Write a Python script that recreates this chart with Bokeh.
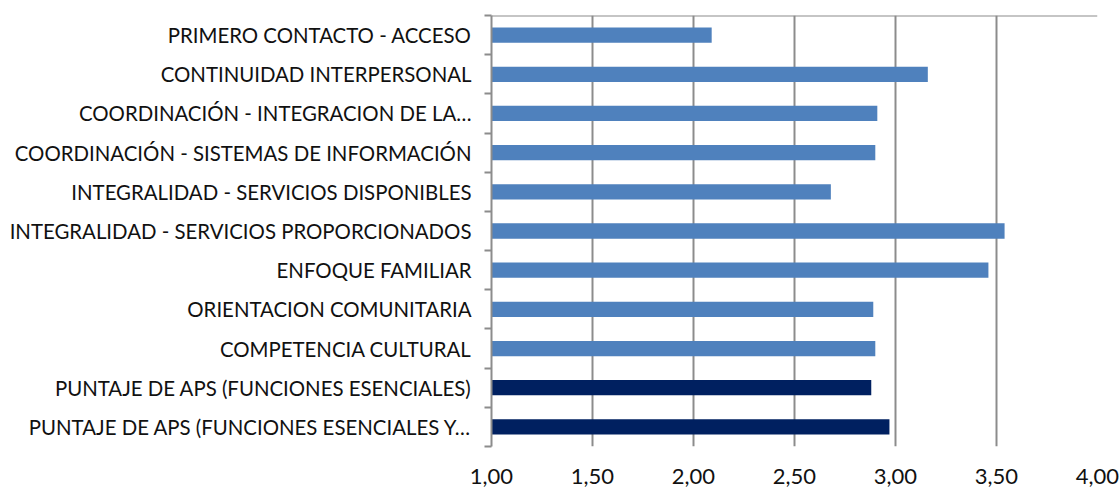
from bokeh.plotting import figure
from bokeh.models import FixedTicker, Range1d, Span, ColumnDataSource
from bokeh.embed import file_html
from bokeh.resources import INLINE

categories = [
    "PRIMERO CONTACTO - ACCESO",
    "CONTINUIDAD INTERPERSONAL",
    "COORDINACIÓN - INTEGRACION DE LA…",
    "COORDINACIÓN - SISTEMAS DE INFORMACIÓN",
    "INTEGRALIDAD - SERVICIOS DISPONIBLES",
    "INTEGRALIDAD - SERVICIOS PROPORCIONADOS",
    "ENFOQUE FAMILIAR",
    "ORIENTACION COMUNITARIA",
    "COMPETENCIA CULTURAL",
    "PUNTAJE DE APS (FUNCIONES ESENCIALES)",
    "PUNTAJE DE APS (FUNCIONES ESENCIALES Y…",
]
values = [2.09, 3.16, 2.91, 2.90, 2.68, 3.54, 3.46, 2.89, 2.90, 2.88, 2.97]
bar_colors = ["#4F81BD"] * 9 + ["#002060"] * 2
x_ticks = [1.0, 1.5, 2.0, 2.5, 3.0, 3.5, 4.0]
x_tick_labels = ["1,00", "1,50", "2,00", "2,50", "3,00", "3,50", "4,00"]

n = len(categories)
ypos = [n - i - 0.5 for i in range(n)]

FONT = "Lato"
GRID = "#8C8C8C"
TEXT = "#111111"

p = figure(width=1120, height=491, output_backend="svg", toolbar_location=None,
           x_range=Range1d(1, 4), y_range=Range1d(0, n),
           min_border_left=491, min_border_right=23, min_border_top=15, min_border_bottom=45)
p.outline_line_color = None
p.background_fill_color = "white"
p.border_fill_color = "white"

src = ColumnDataSource(dict(y=ypos, right=values, color=bar_colors))
p.hbar(y="y", left=1, right="right", height=0.39, fill_color="color",
       line_color=None, source=src)

# x axis
p.xaxis.ticker = FixedTicker(ticks=x_ticks)
p.xaxis.major_label_overrides = {t: l for t, l in zip(x_ticks, x_tick_labels)}
p.xaxis.axis_line_color = None
p.xaxis.major_tick_line_color = None
p.xaxis.minor_tick_line_color = None
p.xaxis.major_label_text_font = FONT
p.xaxis.major_label_text_font_size = "22px"
p.xaxis.major_label_text_color = TEXT
p.xaxis.major_label_standoff = 16

p.xgrid.ticker = FixedTicker(ticks=x_ticks[1:])
p.xgrid.grid_line_color = GRID
p.xgrid.grid_line_width = 2
p.ygrid.grid_line_color = None

# y axis
p.yaxis.ticker = FixedTicker(ticks=ypos, minor_ticks=list(range(n + 1)))
p.yaxis.major_label_overrides = {y: c for y, c in zip(ypos, categories)}
p.yaxis.axis_line_color = GRID
p.yaxis.axis_line_width = 2
p.yaxis.major_tick_line_color = None
p.yaxis.major_tick_out = 0
p.yaxis.major_tick_in = 0
p.yaxis.minor_tick_line_color = GRID
p.yaxis.minor_tick_line_width = 2
p.yaxis.minor_tick_out = 7
p.yaxis.minor_tick_in = 0
p.yaxis.major_label_text_font = FONT
p.yaxis.major_label_text_font_size = "20.4px"
p.yaxis.major_label_text_color = TEXT
p.yaxis.major_label_standoff = 13

p.add_layout(Span(location=n, dimension="width", line_color=GRID, line_width=2))

open("out.html", "w").write(file_html(p, INLINE))
